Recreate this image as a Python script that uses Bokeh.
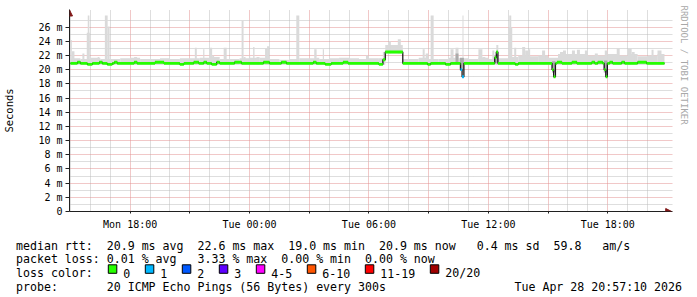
import math
from bokeh.plotting import figure
from bokeh.models import Range1d, FixedTicker, Arrow, NormalHead, ColumnDataSource, Title
from bokeh.layouts import column
from bokeh.core.properties import value
from bokeh.embed import file_html
from bokeh.resources import INLINE

# ---------------- data (time = hours since Mon 00:00, values in ms) ----------------
T_START = 14 + 57 / 60 + 10 / 3600          # Mon 14:57:10
T_END = T_START + 30.0                      # Tue 20:57:10
DATA_END = 44.85
Y_TOP = 27.66                               # top of the rrd canvas

x_ticks = [18, 21, 24, 27, 30, 33, 36, 39, 42]
x_tick_labels = ["Mon 18:00", "", "Tue 00:00", "", "Tue 06:00", "", "Tue 12:00", "", "Tue 18:00"]
x_minor = [15, 16, 17, 19, 20, 22, 23, 25, 26, 28, 29, 31, 32, 34, 35, 37, 38, 40, 41, 43, 44]
y_ticks = [0, 2, 4, 6, 8, 10, 12, 14, 16, 18, 20, 22, 24, 26]
y_tick_labels = ["0", "2 m", "4 m", "6 m", "8 m", "10 m", "12 m", "14 m", "16 m",
                 "18 m", "20 m", "22 m", "24 m", "26 m"]
y_minor = [1, 3, 5, 7, 9, 11, 13, 15, 17, 19, 21, 23, 25, 27]

loss_labels = ["0", "1", "2", "3", "4-5", "6-10", "11-19", "20/20"]
loss_colors = ["#26ff00", "#00b8ff", "#0059ff", "#5e00ff", "#ff00ff", "#ff5500", "#ff0000", "#a00000"]

# median rtt: change points (start hour), value (ms), loss bucket
med_t = [15.00, 15.35, 15.50, 15.85, 16.10, 16.45, 16.60, 16.85, 17.10, 17.20, 17.35,
         18.20, 18.35, 19.25, 19.70, 20.50, 20.70, 21.20, 21.45, 21.70, 21.85, 22.10,
         22.35, 22.50, 23.25, 23.60, 24.70, 25.00, 25.60, 25.85, 27.20, 27.35, 27.80,
         28.10, 28.70, 28.95, 30.50, 30.70, 30.82, 31.70, 32.95, 33.10, 33.85, 34.10,
         34.60, 34.68, 34.77, 36.32, 36.40, 36.48, 37.35, 37.50, 39.20, 39.28, 39.37,
         39.45, 39.70, 40.20, 40.45, 41.20, 41.35, 41.50, 41.75, 41.82, 41.90, 41.98,
         42.10, 42.25, 42.70, 42.85, 43.50, 43.95]
med_v = [20.9, 21.05, 20.9, 20.75, 20.9, 21.05, 20.9, 20.75, 20.9, 21.05, 20.9,
         21.05, 20.9, 21.05, 20.9, 20.75, 20.9, 21.05, 20.9, 21.05, 20.9, 20.75,
         21.05, 20.9, 21.05, 20.9, 21.05, 20.9, 21.05, 20.9, 21.05, 20.9, 20.75,
         20.9, 21.05, 20.9, 20.75, 21.4, 22.5, 20.9, 20.75, 20.9, 20.75, 20.9,
         20.0, 19.0, 20.9, 21.7, 22.5, 20.9, 20.75, 20.9, 20.0, 19.0, 20.9,
         21.05, 20.9, 21.05, 20.9, 21.05, 20.9, 21.05, 20.9, 20.0, 19.0, 20.9,
         21.05, 20.9, 21.05, 20.9, 21.05, 20.9]
med_loss = [0] * 44 + [1, 1] + [0] * 26

# smoke: base band (start hour, top), floor value
SMOKE_FLOOR = 20.7
base_t = [15.0, 15.5, 16.0, 16.5, 17.0, 17.5, 18.0, 18.5, 19.0, 19.5, 20.0, 20.5, 21.0, 21.5,
          22.0, 22.5, 23.0, 23.5, 24.0, 24.5, 25.0, 25.5, 26.0, 26.5, 27.0, 27.5, 28.0, 28.5,
          29.0, 29.5, 30.0, 30.5, 30.7, 31.7, 32.0, 32.5, 33.0, 33.5, 34.0, 34.5, 35.0, 35.5,
          36.0, 36.5, 37.0, 37.5, 38.0, 38.5, 39.0, 39.5, 40.0, 40.5, 41.0, 41.5, 42.0, 42.5,
          43.0, 43.5, 44.0, 44.5]
base_hi = [21.6, 21.5, 21.7, 21.5, 21.5, 21.6, 21.7, 21.5, 21.5, 21.6, 21.5, 21.6, 21.6, 21.7,
           21.8, 21.5, 21.5, 21.6, 21.7, 21.7, 21.5, 21.4, 21.5, 21.6, 21.6, 21.5, 21.6, 21.7,
           21.6, 21.5, 21.6, 21.6, None, 21.5, 21.5, 21.7, 21.5, 21.5, 21.7, 21.6, 21.5, 21.7,
           21.5, 21.6, 21.8, 22.0, 21.9, 22.0, 21.7, 22.2, 22.2, 22.2, 22.0, 22.0, 22.2, 22.0,
           22.2, 21.9, 22.0, 22.2]

# smoke spikes
spk_t0 = [15.00, 15.07, 15.60, 15.82, 15.87, 16.37, 16.73, 16.87, 18.20, 21.25, 21.67, 21.98,
          22.12, 22.70, 23.60, 23.70, 23.97, 24.18, 24.35, 24.78, 24.88, 26.35, 27.25, 27.37,
          27.68, 29.85, 30.70, 30.82, 31.00, 31.45, 32.70, 32.85, 33.10, 34.10, 34.35, 34.70,
          35.50, 35.70, 36.20, 36.40, 37.00, 37.05, 37.30, 37.70, 37.85, 38.00, 38.70, 39.60,
          39.75, 40.20, 40.45, 40.85, 41.35, 41.85, 42.45, 43.00, 43.20, 44.20, 44.50]
spk_t1 = [15.07, 15.20, 15.70, 15.97, 15.95, 16.45, 16.87, 16.97, 18.35, 21.35, 21.73, 22.12,
          22.22, 22.85, 23.70, 23.80, 24.03, 24.25, 24.50, 24.88, 25.00, 26.50, 27.37, 27.50,
          27.74, 30.00, 30.82, 31.70, 31.10, 31.60, 32.80, 33.00, 33.25, 34.25, 34.50, 34.75,
          35.70, 35.85, 36.30, 36.50, 37.20, 37.15, 37.40, 37.85, 38.00, 38.10, 38.85, 39.75,
          39.90, 40.35, 40.60, 41.00, 41.50, 42.00, 42.60, 43.20, 43.35, 44.30, 44.70]
spk_lo = [20.7] * 27 + [22.3, 22.3, 22.3] + [20.7] * 29
spk_hi = [24.2, 22.6, 22.3, 25.2, 27.66, 21.8, 27.66, 26.1, 21.8, 23.1, 22.9, 23.1,
          22.0, 23.1, 26.9, 21.8, 22.0, 23.2, 21.8, 23.0, 23.3, 27.66, 22.9, 21.7,
          22.9, 22.0, 22.5, 23.5, 24.0, 24.3, 22.9, 22.3, 27.66, 22.9, 23.1, 27.66,
          22.9, 21.8, 22.7, 23.5, 26.0, 27.66, 23.1, 23.2, 22.7, 22.9, 22.7, 22.5,
          22.7, 22.7, 22.8, 22.7, 22.3, 22.7, 23.0, 23.0, 22.5, 22.8, 22.7]

# darker smoke around the dips
dk_t0 = [34.35, 34.57, 36.30, 39.20, 41.80]
dk_t1 = [34.50, 34.77, 36.48, 39.37, 41.98]
dk_lo = [20.9, 19.9, 20.9, 19.6, 19.6]
dk_hi = [22.3, 21.7, 22.0, 21.2, 21.3]

# statistics
rtt_avg, rtt_max, rtt_min, rtt_now, rtt_sd, rtt_ams = 20.9, 22.6, 19.0, 20.9, 0.4, 59.8
loss_avg, loss_max, loss_min, loss_now = 0.01, 3.33, 0.00, 0.00
probe_text = "20 ICMP Echo Pings (56 Bytes) every 300s"
stamp_text = "Tue Apr 28 20:57:10 2026"

# ---------------- style ----------------
MONO = "DejaVu Sans Mono"
SMOKE = "#dadada"
DARK_SMOKE = "#ababab"
MED_HALF = 0.2
AXIS_C = "#202020"
ARROW_C = "#801818"
PX_PER_H = 20.0
PX_PER_MS = 7.23
FRAME_TOP = 9       # px, room for the axis arrow
FRAME_RIGHT_PAD = 6 # px beyond the rrd canvas, room for the axis arrow

p = figure(width=697, height=232,
           x_range=Range1d(T_START, T_END + FRAME_RIGHT_PAD / PX_PER_H),
           y_range=Range1d(0, Y_TOP + (15 - FRAME_TOP) / PX_PER_MS),
           output_backend="svg", toolbar_location=None,
           min_border_left=66, min_border_right=31 - FRAME_RIGHT_PAD,
           min_border_top=FRAME_TOP, min_border_bottom=17)
p.frame_align = False
p.outline_line_color = None
p.background_fill_color = "white"
p.border_fill_color = "white"

p.xaxis.ticker = FixedTicker(ticks=x_ticks, minor_ticks=x_minor)
p.xaxis.major_label_overrides = {t: l for t, l in zip(x_ticks, x_tick_labels)}
p.yaxis.ticker = FixedTicker(ticks=y_ticks, minor_ticks=y_minor)
p.yaxis.major_label_overrides = {t: l for t, l in zip(y_ticks, y_tick_labels)}

for ax in (p.xaxis, p.yaxis):
    ax.axis_line_color = AXIS_C
    ax.major_tick_line_color = AXIS_C
    ax.minor_tick_line_color = None
    ax.major_tick_in = 0
    ax.major_label_text_font = MONO
    ax.major_label_text_font_size = "10px"
    ax.major_label_text_color = "black"
    ax.major_label_standoff = 3
p.xaxis.major_tick_out = 2
p.yaxis.major_tick_out = 4
p.yaxis.axis_label = "Seconds"
p.yaxis.axis_label_text_font = MONO
p.yaxis.axis_label_text_font_size = "10.5px"
p.yaxis.axis_label_text_font_style = "normal"
p.yaxis.axis_label_text_color = "black"
p.yaxis.axis_label_standoff = 20

for g in (p.xgrid, p.ygrid):
    g.grid_line_color = "#e39090"
    g.grid_line_dash = "1 1"
    g.grid_line_width = 1
    g.minor_grid_line_color = "#bcbcbc"
    g.minor_grid_line_dash = "1 1"
    g.minor_grid_line_width = 1

# base smoke band
b_right = base_t[1:] + [DATA_END]
bl, br, bt = [], [], []
for l, r, h in zip(base_t, b_right, base_hi):
    if h is not None:
        bl.append(l); br.append(r); bt.append(h)
p.quad(left=bl, right=br, bottom=[SMOKE_FLOOR] * len(bl), top=bt,
       fill_color=SMOKE, line_color=None)
# spikes
p.quad(left=spk_t0, right=spk_t1, bottom=spk_lo, top=spk_hi, fill_color=SMOKE, line_color=None)
# darker smoke
p.quad(left=dk_t0, right=dk_t1, bottom=dk_lo, top=dk_hi, fill_color=DARK_SMOKE, line_color=None)

# median: dark step line + loss-coloured band
p.step(x=med_t + [DATA_END], y=med_v + [med_v[-1]], mode="after", line_color="#1a1a1a", line_width=1.3)
m_right = med_t[1:] + [DATA_END]
msrc = ColumnDataSource(dict(left=med_t, right=m_right,
                             bottom=[v - MED_HALF for v in med_v],
                             top=[v + MED_HALF for v in med_v],
                             color=[loss_colors[i] for i in med_loss]))
p.quad(left="left", right="right", bottom="bottom", top="top", fill_color="color",
       line_color=None, source=msrc)

# axis arrows
y_tip = Y_TOP + (15 - 9.5) / PX_PER_MS
x_tip = T_END + 5.2 / PX_PER_H
p.add_layout(Arrow(end=NormalHead(size=6, fill_color=ARROW_C, line_color=ARROW_C),
                   x_start=T_START, y_start=Y_TOP, x_end=T_START, y_end=y_tip,
                   line_color=AXIS_C, line_width=1))
p.add_layout(Arrow(end=NormalHead(size=6, fill_color=ARROW_C, line_color=ARROW_C),
                   x_start=T_END - 0.05, y_start=0, x_end=x_tip, y_end=0,
                   line_color=AXIS_C, line_width=1))

# watermark on the right side
p.add_layout(Title(text="RRDTOOL / TOBI OETIKER", align="left", text_font=MONO,
                   text_font_size="9px", text_font_style="normal", text_color="#a8a8a8",
                   standoff=13, offset=-4), "right")

# ---------------- legend panel ----------------
q = figure(width=697, height=65, x_range=Range1d(0, 697), y_range=Range1d(65, 0),
           output_backend="svg", toolbar_location=None, min_border=0,
           x_axis_location=None, y_axis_location=None)
q.frame_align = False
q.outline_line_color = None
q.xgrid.visible = False
q.ygrid.visible = False
q.background_fill_color = "white"
q.border_fill_color = "white"

NB = "\u00a0"
CW = 7.0
X0 = 15.5
row1 = ("median rtt:  %.1f ms avg  %.1f ms max  %.1f ms min  %.1f ms now   %.1f ms sd  %.1f   am/s"
        % (rtt_avg, rtt_max, rtt_min, rtt_now, rtt_sd, rtt_ams))
row2 = ("packet loss: %.2f %% avg   %.2f %% max  %.2f %% min  %.2f %% now"
        % (loss_avg, loss_max, loss_min, loss_now))
row3 = "loss color:"
row4 = "probe:       " + probe_text
rows = [r.replace(" ", NB) for r in (row1, row2, row3, row4)]
q.text(x=[X0] * 4, y=[13, 26.9, 40.8, 54.6], text=rows,
       text_font=value(MONO), text_font_size="11.6px", text_color="black",
       text_baseline="alphabetic", text_align="left")
q.text(x=[681.5], y=[54.6], text=[stamp_text.replace(" ", NB)], text_font=value(MONO),
       text_font_size="11.6px", text_color="black", text_baseline="alphabetic", text_align="right")

bx = []
x = X0 + 13 * CW + 1.3
for lab in loss_labels:
    bx.append(x)
    x += 30 + CW * len(lab)
q.quad(left=bx, right=[b + 8.5 for b in bx], top=[32.3] * len(bx), bottom=[40.8] * len(bx),
       fill_color=loss_colors, line_color="black", line_width=1)
q.text(x=[b + 15 for b in bx], y=[40.8] * len(bx), text=loss_labels, text_font=value(MONO),
       text_font_size="11.6px", text_color="black", text_baseline="alphabetic", text_align="left")

layout = column(p, q, spacing=0)
open("out.html", "w").write(file_html(layout, INLINE))
